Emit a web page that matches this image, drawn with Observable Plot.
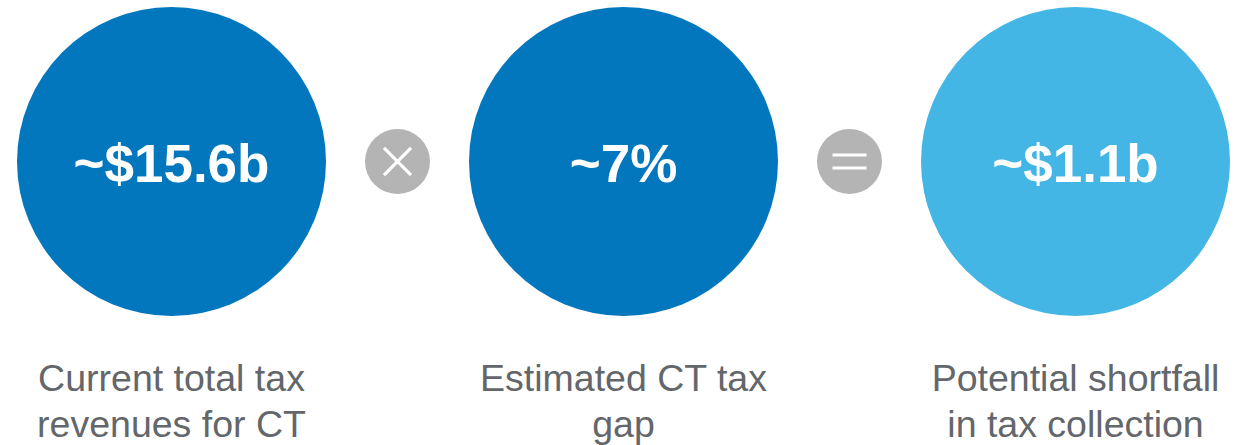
<!DOCTYPE html>
<html>
<head>
<meta charset="utf-8">
<script src="https://cdn.jsdelivr.net/npm/d3@7"></script>
<script src="https://cdn.jsdelivr.net/npm/@observablehq/plot@0.6"></script>
<style>
  html, body { margin: 0; padding: 0; background: #ffffff; }
  #chart svg { display: block; }
</style>
</head>
<body>
<div id="chart"></div>
<script>
// ---- data ----
const steps = ["revenue", "gap", "shortfall"];
const values = ["~$15.6b", "~7%", "~$1.1b"];
const labels = [
  "Current total tax\nrevenues for CT",
  "Estimated CT tax\ngap",
  "Potential shortfall\nin tax collection"
];
const operatorSlots = ["times", "equals"];
const slots = ["revenue", "times", "gap", "equals", "shortfall"];

// ---- tables built from the arrays ----
const circles = steps.map((s, i) => ({step: s, value: values[i], label: labels[i]}));
const operators = operatorSlots.map(o => ({slot: o}));

// custom "equals" symbol (two horizontal bars)
const symbolEquals = {
  draw(context, size) {
    const s = Math.sqrt(size);
    const w = s * 0.777, g = s * 0.297;
    context.moveTo(-w, -g); context.lineTo(w, -g);
    context.moveTo(-w, g); context.lineTo(w, g);
  }
};

const chart = Plot.plot({
  width: 1238,
  height: 445,
  marginLeft: 170.5,
  marginRight: 163,
  marginTop: 6,
  marginBottom: 129,
  x: {type: "point", domain: slots, padding: 0, axis: null},
  color: {domain: steps, range: ["#0277BE", "#0277BE", "#43B6E6"]},
  symbol: {domain: operatorSlots, range: [d3.symbolTimes, symbolEquals]},
  style: {fontFamily: "Arial, 'Liberation Sans', sans-serif", background: "#ffffff"},
  marks: [
    Plot.dot(circles, {x: "step", r: 154.5, fill: "step", stroke: null}),
    Plot.text(circles, {
      x: "step", text: "value", fill: "#ffffff",
      fontSize: 53, fontWeight: "bold", dy: 4
    }),
    Plot.dot(operators, {x: "slot", r: 32.5, fill: "#B3B4B3", stroke: null}),
    Plot.dot(operators, {
      x: "slot", symbol: "slot", r: 12.35,
      stroke: "#ffffff", strokeWidth: 3.2, fill: "none"
    }),
    Plot.text(circles, {
      x: "step", text: "label", frameAnchor: "bottom",
      lineAnchor: "top", dy: 42, lineHeight: 1.22,
      fontSize: 37.5, fill: "#63666A"
    })
  ]
});

document.getElementById("chart").appendChild(chart);
</script>
</body>
</html>
